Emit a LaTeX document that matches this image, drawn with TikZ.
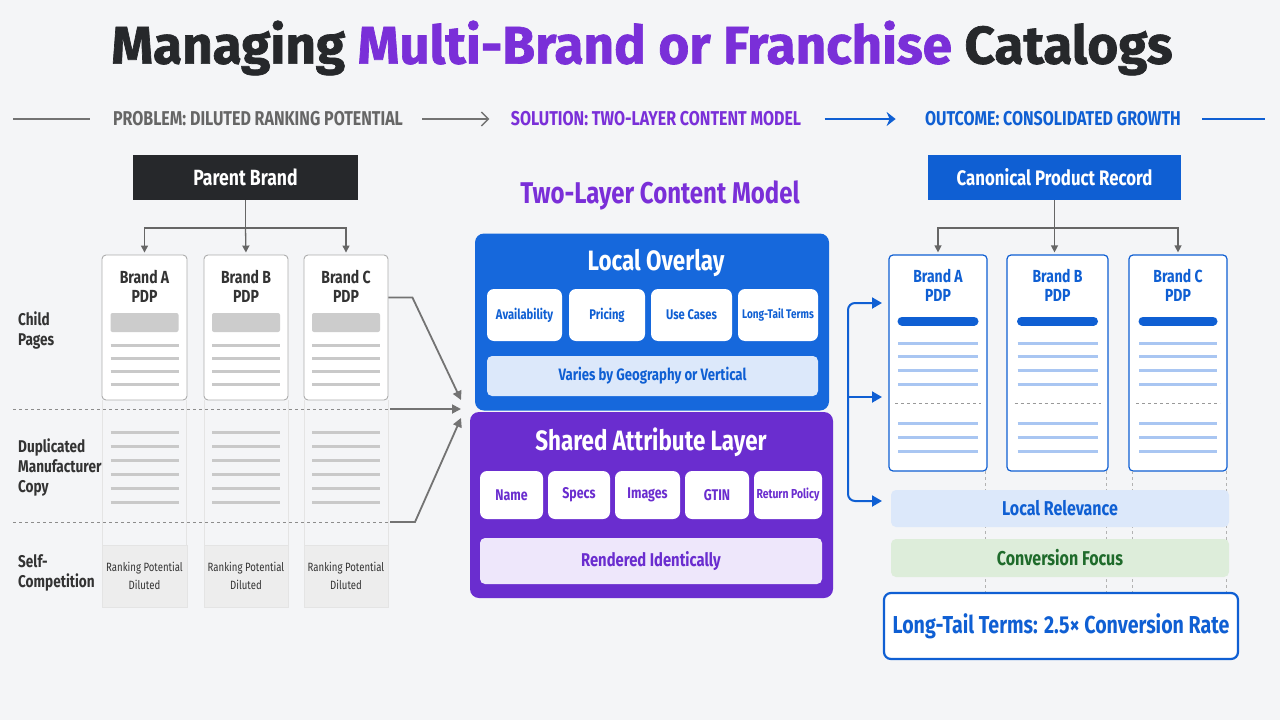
\documentclass[tikz,border=0pt]{standalone}
\usepackage{fontspec}
\setmainfont{Fira Sans}[FakeStretch=0.8]
\newfontfamily\titlefont{Fira Sans}[BoldFeatures={FakeBold=1.3}]
\usetikzlibrary{
  positioning,
  arrows.meta,
  calc,
}
\definecolor{bgCol}{HTML}{F4F5F7}
\definecolor{inkDark}{HTML}{26282B}
\definecolor{textGray}{HTML}{333333}
\definecolor{headGray}{HTML}{666666}
\definecolor{lineGray}{HTML}{C9C9C9}
\definecolor{cardGray}{HTML}{ADADAD}
\definecolor{faintGray}{HTML}{E4E4E4}
\definecolor{purpleMain}{HTML}{7A2FD8}
\definecolor{purpleLayer}{HTML}{6A2DCF}
\definecolor{purpleLight}{HTML}{EEE7FB}
\definecolor{blueMain}{HTML}{0F5FD3}
\definecolor{blueLayer}{HTML}{1668DC}
\definecolor{blueLight}{HTML}{DCE8FA}
\definecolor{blueLine}{HTML}{A9C6F2}
\definecolor{greenText}{HTML}{1F6B2B}
\definecolor{greenLight}{HTML}{DDEDDA}
\tikzset{
  headtext/.style={font=\fontsize{20}{22}\selectfont\bfseries},
  headbox/.style={
    rectangle, minimum height=45pt, text=white, align=center,
    font=\fontsize{22}{24}\selectfont\bfseries, inner sep=0pt,
  },
  cardbox/.style={
    rectangle, rounded corners=4pt, draw=cardGray, fill=white,
    line width=0.9pt, inner sep=0pt,
  },
  bluecard/.style={cardbox, draw=blueMain, line width=1.2pt},
  cardtext/.style={font=\fontsize{17.5}{19}\selectfont\bfseries, align=center, inner sep=0pt},
  rowlabel/.style={font=\fontsize{17}{20}\selectfont\bfseries, text=textGray, align=left, anchor=west, inner sep=0pt},
  rankbox/.style={
    rectangle, draw=faintGray, fill=black!7, minimum width=85pt, minimum height=62pt,
    font=\fontsize{12}{18}\selectfont, text=textGray, align=center, inner sep=0pt,
  },
  layerbox/.style={rectangle, rounded corners=9pt, inner sep=0pt},
  layertitle/.style={font=\fontsize{28}{30}\selectfont\bfseries, text=white, inner sep=0pt},
  pillbox/.style={
    rectangle, rounded corners=7pt, fill=white, minimum height=52pt,
    font=\fontsize{14}{16}\selectfont\bfseries, text=blueMain, inner sep=0pt,
  },
  sharedpill/.style={pillbox, minimum height=48pt, font=\fontsize{15.5}{17}\selectfont\bfseries, text=purpleLayer},
  bandbox/.style={
    rectangle, rounded corners=5pt, inner sep=0pt,
    font=\fontsize{17}{19}\selectfont\bfseries,
  },
  treeline/.style={draw=black!60, line width=1.3pt},
  treearrow/.style={treeline, -{Triangle[length=7pt,width=7pt]}, shorten >=2pt},
  grayarrow/.style={draw=black!55, line width=1.8pt, -{Triangle[length=9pt,width=9pt]}},
  bluearrow/.style={draw=blueMain, line width=2pt, -{Triangle[length=10pt,width=11pt]}},
  textline/.style={draw=lineGray, line width=3pt},
  sepline/.style={draw=black!45, dashed, line width=0.9pt},
}

\begin{document}
\begin{tikzpicture}[x=1pt, y=-1pt]
  \fill[bgCol] (0,0) rectangle (1280,720);
  \useasboundingbox (0,0) rectangle (1280,720);

  \node[font=\titlefont\fontsize{53}{56}\selectfont\bfseries, text=inkDark] (title) at (642,48)
    {Managing \textcolor{purpleMain}{Multi-Brand or Franchise} Catalogs};

  % Header row
  \node[headtext, text=headGray] (hProb) at (258,119) {PROBLEM: DILUTED RANKING POTENTIAL};
  \node[headtext, text=purpleMain] (hSol) at (656,119) {SOLUTION: TWO-LAYER CONTENT MODEL};
  \node[headtext, text=blueMain] (hOut) at (1053,119) {OUTCOME: CONSOLIDATED GROWTH};
  \coordinate (hL) at (13,119);
  \coordinate (hR) at (1265,119);
  \draw[draw=black!55, line width=1.4pt] (hL) -- ([xshift=-20pt]hProb.west);
  \draw[draw=black!55, line width=1.4pt, -{Straight Barb[length=7pt,width=14pt]}] ([xshift=16pt]hProb.east) -- ([xshift=-18pt]hSol.west);
  \draw[draw=blueMain, line width=1.6pt, -{Stealth[length=9pt,width=14pt]}] ([xshift=20pt]hSol.east) -- ([xshift=-26pt]hOut.west);
  \draw[draw=blueMain, line width=1.4pt] ([xshift=18pt]hOut.east) -- (hR);

  % Problem side
  \node[headbox, fill=inkDark, minimum width=225pt] (parent) at (245.5,177.5) {Parent Brand};
  \node[cardbox, minimum width=85pt, minimum height=145pt] (cardA) at (144.5,327.5) {};
  \node[cardbox, minimum width=84pt, minimum height=145pt] (cardB) at (246,327.5) {};
  \node[cardbox, minimum width=84pt, minimum height=145pt] (cardC) at (346,327.5) {};
  \node[cardtext, text=textGray, below=15pt of cardA.north] (cardAt) {Brand A\\PDP};
  \node[cardtext, text=textGray, below=15pt of cardB.north] (cardBt) {Brand B\\PDP};
  \node[cardtext, text=textGray, below=15pt of cardC.north] (cardCt) {Brand C\\PDP};

  \coordinate (pj) at (245.5,228);
  \draw[treeline] (parent.south) -- (pj);
  \draw[treearrow] (pj) -| (cardA.north);
  \draw[treearrow] (pj) -- (cardB.north);
  \draw[treearrow] (pj) -| (cardC.north);

  \foreach \cx in {144.5,246,346} {
    \fill[black!20, rounded corners=2pt] (\cx-34,313) rectangle (\cx+34,332);
    \foreach \ly in {345,358,371,384}
      \draw[textline] (\cx-34,\ly) -- (\cx+34,\ly);
    \draw[draw=faintGray, line width=0.8pt] (\cx-42,400) -- (\cx-42,545) (\cx+42,400) -- (\cx+42,545);
    \foreach \ly in {432,446,460,474,488,502}
      \draw[textline] (\cx-34,\ly) -- (\cx+34,\ly);
  }

  \coordinate (sepA) at (390,409);
  \coordinate (sepB) at (390,522);
  \draw[sepline] (13,409) -- (sepA);
  \draw[sepline] (13,522) -- (sepB);

  \node[rowlabel] (lblChild) at (18,330) {Child\\Pages};
  \node[rowlabel] (lblDup) at (18,467) {Duplicated\\Manufacturer\\Copy};
  \node[rowlabel] (lblSelf) at (18,573) {Self-\\Competition};

  \node[rankbox] (rankA) at (144.5,576) {Ranking Potential\\Diluted};
  \node[rankbox, minimum width=84pt] (rankB) at (246,576) {Ranking Potential\\Diluted};
  \node[rankbox, minimum width=84pt] (rankC) at (346,576) {Ranking Potential\\Diluted};

  % Two-layer model
  \node[font=\fontsize{30}{32}\selectfont\bfseries, text=purpleMain] (modelTitle) at (660,195) {Two-Layer Content Model};

  \node[layerbox, fill=purpleLayer, minimum width=363pt, minimum height=186pt] (shared) at (651.5,505) {};
  \node[layerbox, fill=blueLayer, minimum width=354pt, minimum height=177pt] (overlay) at (652,322) {};
  \node[layertitle] (overlayTitle) at (656,263) {Local Overlay};
  \node[layertitle] (sharedTitle) at (651,442) {Shared Attribute Layer};

  \node[pillbox, minimum width=75pt] (pAvail) at (524.5,315) {Availability};
  \node[pillbox, minimum width=76pt] (pPrice) at (607,315) {Pricing};
  \node[pillbox, minimum width=81pt] (pUse) at (691.5,315) {Use Cases};
  \node[pillbox, minimum width=80pt, font=\fontsize{12.5}{14}\selectfont\bfseries] (pTail) at (778,315) {Long-Tail Terms};
  \node[bandbox, fill=blueLight, text=blueMain, minimum width=331pt, minimum height=40pt, font=\fontsize{16.5}{18}\selectfont\bfseries] (varies) at (652.5,376) {Varies by Geography or Vertical};

  \node[sharedpill, minimum width=63pt] (sName) at (511.5,495) {Name};
  \node[sharedpill, minimum width=62pt] (sSpecs) at (579,495) {Specs};
  \node[sharedpill, minimum width=65pt] (sImages) at (647.5,495) {Images};
  \node[sharedpill, minimum width=64pt] (sGtin) at (717,495) {GTIN};
  \node[sharedpill, minimum width=68pt, font=\fontsize{13}{15}\selectfont\bfseries] (sReturn) at (788,495) {Return Policy};
  \node[bandbox, fill=purpleLight, text=purpleLayer, minimum width=342pt, minimum height=46pt, font=\fontsize{18.5}{20}\selectfont\bfseries] (rendered) at (651,561) {Rendered Identically};

  \coordinate (inA) at (461,400);
  \coordinate (inB) at (461,409);
  \coordinate (inC) at (461,418);
  \draw[grayarrow] ($(cardC.north east)+(0,43)$) -- ++(24,0) -- (inA);
  \draw[grayarrow] (sepA) -- (inB);
  \draw[grayarrow] (sepB) -- ++(25,0) -- (inC);

  % Outcome side
  \node[headbox, fill=blueMain, minimum width=253pt, font=\fontsize{21}{23}\selectfont\bfseries] (canon) at (1054.5,177.5) {Canonical Product Record};
  \node[bluecard, minimum width=98pt, minimum height=216pt] (rcardA) at (938,363) {};
  \node[bluecard, minimum width=101pt, minimum height=216pt] (rcardB) at (1057.5,363) {};
  \node[bluecard, minimum width=98pt, minimum height=216pt] (rcardC) at (1178,363) {};
  \node[cardtext, text=blueMain, below=15pt of rcardA.north] (rcardAt) {Brand A\\PDP};
  \node[cardtext, text=blueMain, below=15pt of rcardB.north] (rcardBt) {Brand B\\PDP};
  \node[cardtext, text=blueMain, below=15pt of rcardC.north] (rcardCt) {Brand C\\PDP};

  \coordinate (cj) at (1054.5,228);
  \draw[treeline] (canon.south) -- (cj);
  \draw[treearrow] (cj) -| (rcardA.north);
  \draw[treearrow] (cj) -- (cj |- rcardB.north);
  \draw[treearrow] (cj) -| (rcardC.north);

  \foreach \cx/\hw in {938/40,1057.5/40,1178/39} {
    \draw[draw=blueMain, line width=9pt, line cap=round] (\cx-\hw+4,321) -- (\cx+\hw-4,321);
    \foreach \ly in {343,356,370,384,423,437,451}
      \draw[draw=blueLine, line width=3pt] (\cx-\hw,\ly) -- (\cx+\hw,\ly);
    \draw[draw=black!40, dashed, line width=0.7pt] (\cx-\hw-3,403) -- (\cx+\hw+3,403);
  }
  \foreach \vx in {985,1106,1132,1226}
    \draw[draw=black!30, dashed, line width=0.7pt] (\vx,471) -- (\vx,593);

  \node[bandbox, fill=blueLight, text=blueMain, minimum width=338pt, minimum height=37pt, font=\fontsize{20}{22}\selectfont\bfseries] (localRel) at (1060,508.5) {Local Relevance};
  \node[bandbox, fill=greenLight, text=greenText, minimum width=338pt, minimum height=38pt, font=\fontsize{20}{22}\selectfont\bfseries] (convFocus) at (1060,558) {Conversion Focus};
  \node[rectangle, rounded corners=7pt, draw=blueMain, line width=2.2pt, fill=white, minimum width=354pt, minimum height=66pt, text=blueMain, font=\fontsize{24.5}{27}\selectfont\bfseries] (longTail) at (1061,626) {Long-Tail Terms: 2.5× Conversion Rate};

  \coordinate (brc) at (848,397);
  \coordinate (outA) at (882,303);
  \coordinate (outB) at (882,397);
  \coordinate (outC) at (882,501);
  \draw[bluearrow, rounded corners=7pt] (brc) |- (outA);
  \draw[bluearrow] (brc) -- (outB);
  \draw[bluearrow, rounded corners=7pt] (brc) |- (outC);

\end{tikzpicture}
\end{document}
